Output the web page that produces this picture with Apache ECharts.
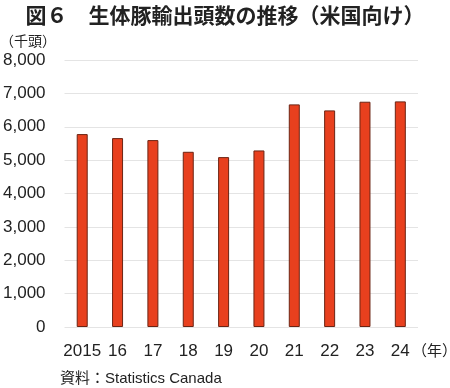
<!DOCTYPE html>
<html><head><meta charset="utf-8">
<script src="https://cdn.jsdelivr.net/npm/echarts@6/dist/echarts.min.js"></script>
<style>html,body{margin:0;padding:0;background:#fff}#c{width:450px;height:388px}</style>
</head><body><div id="c"></div>
<script>
var categories = ['2015','16','17','18','19','20','21','22','23','24'];
var values = [5780, 5660, 5600, 5250, 5090, 5290, 6670, 6490, 6750, 6760];
var yTicks = [0, 1000, 2000, 3000, 4000, 5000, 6000, 7000, 8000];
var FONT = '"Noto Sans CJK JP", "Noto Sans", sans-serif';
var NUMFONT = '"Liberation Sans", "Noto Sans CJK JP", sans-serif';
var chart = echarts.init(document.getElementById('c'));
chart.setOption({
  animation: false,
  backgroundColor: '#fff',
  title: {
    text: '図６　生体豚輸出頭数の推移（米国向け）',
    left: 'center', top: 0,
    textStyle: {fontFamily: FONT, fontSize: 21, fontWeight: 'bold', color: '#222'}
  },
  grid: {left: 63, right: 32, top: 60, bottom: 61},
  xAxis: {
    type: 'category', data: categories,
    axisLine: {show: false}, axisTick: {show: false},
    axisLabel: {interval: 0, fontFamily: NUMFONT, fontSize: 17, color: '#222', margin: 16}
  },
  yAxis: {
    type: 'value', min: yTicks[0], max: yTicks[yTicks.length-1], interval: 1000,
    axisLine: {show: false}, axisTick: {show: false},
    splitLine: {lineStyle: {color: '#e4e4e4', width: 1}},
    axisLabel: {fontFamily: NUMFONT, fontSize: 17, color: '#222', margin: 19,
      formatter: function(v){ return v.toLocaleString('en-US'); }}
  },
  series: [{
    type: 'bar', data: values, barWidth: 11,
    itemStyle: {color: '#E8401E', borderColor: '#6b2414', borderWidth: 1}
  }],
  graphic: [
    {type: 'text', left: 0, top: 34, style: {text: '（千頭）', font: '14px ' + FONT, fill: '#222'}},
    {type: 'text', left: 412, top: 343, style: {text: '（年）', font: '15px ' + FONT, fill: '#222'}},
    {type: 'text', left: 60, top: 371, style: {text: '資料：Statistics Canada', font: '15px ' + NUMFONT, fill: '#222'}}
  ]
});
</script></body></html>
